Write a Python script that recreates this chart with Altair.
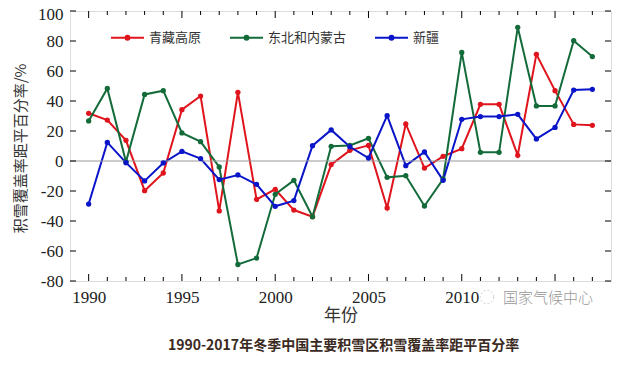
import altair as alt
import pandas as pd

years = list(range(1990, 2018))
series_names = ["青藏高原", "东北和内蒙古", "新疆"]
qzgy = [31.8, 27.3, 13.8, -19.8, -8.0, 34.2, 43.3, -33.3, 45.8, -25.6, -18.9, -32.7, -37.1, -2.4,
        7.1, 10.4, -31.3, 24.7, -4.7, 3.1, 8.2, 37.8, 37.8, 3.8, 71.1, 46.9, 24.4, 23.8]
dbnmg = [26.7, 48.4, -0.5, 44.4, 46.9, 18.7, 12.9, -4.0, -69.0, -64.7, -22.2, -12.9, -37.1, 9.8,
         10.4, 15.1, -10.9, -9.8, -30.0, -12.0, 72.4, 5.8, 5.8, 89.1, 36.7, 36.7, 80.2, 69.6]
xj = [-28.7, 12.4, -1.1, -13.3, -1.3, 6.4, 1.6, -12.4, -9.3, -15.6, -30.2, -26.4, 10.2, 20.7,
      9.5, 2.0, 30.2, -3.1, 6.0, -12.9, 27.8, 29.6, 29.6, 31.1, 14.7, 22.4, 47.3, 47.8]
colors = ["#e0141c", "#136b3a", "#0a14c8"]
x_labels = [1990, 1995, 2000, 2005, 2010]
y_ticks = [-80, -60, -40, -20, 0, 20, 40, 60, 80, 100]

rows = []
for name, vals in zip(series_names, [qzgy, dbnmg, xj]):
    for yr, v in zip(years, vals):
        rows.append({"年": yr, "值": v, "区域": name})
df = pd.DataFrame(rows)
ticks_df = pd.DataFrame({"年": years, "major": [y % 5 == 0 for y in years]})
yt_df = pd.DataFrame({"值": y_ticks})

W, H = 541, 270
SERIF = "Liberation Serif, Noto Sans CJK SC"
CJK = "Noto Sans CJK SC"

xscale = alt.Scale(domain=[1989, 2018], nice=False, zero=False)
yscale = alt.Scale(domain=[-80, 100], nice=False)

xaxis = alt.Axis(values=x_labels, format="d", tickSize=0, domain=False, grid=False,
                 labelFont=SERIF, labelFontSize=17, labelColor="#222", labelPadding=8,
                 title="年份", titleFont=CJK, titleFontSize=17, titleFontWeight="normal",
                 titleColor="#333", titlePadding=2)
yaxis = alt.Axis(values=y_ticks, tickSize=0, domain=False, grid=False,
                 labelExpr="'' + datum.value", labelOverlap=False, labelFlush=False,
                 labelOffset={"condition": {"test": "datum.value == 100", "value": 3}, "value": 0},
                 labelFont=SERIF, labelFontSize=17, labelColor="#222", labelPadding=7,
                 title="积雪覆盖率距平百分率/%", titleFont=CJK, titleFontSize=15,
                 titleFontWeight="normal", titleColor="#333",
                 titleX=-50, titleY=137, titleAngle=-90, titleAlign="center",
                 titleBaseline="middle")

X = alt.X("年:Q", scale=xscale, axis=xaxis, title="年份")
Y = alt.Y("值:Q", scale=yscale, axis=yaxis, title="积雪覆盖率距平百分率/%")

legend_path = ("M-1,0H1M-0.12,0a0.12,0.12 0 1,0 0.24,0a0.12,0.12 0 1,0 -0.24,0")

color = alt.Color("区域:N", scale=alt.Scale(domain=series_names, range=colors),
                  legend=alt.Legend(title=None, orient="none", legendX=40, legendY=9,
                                    direction="horizontal", symbolType=legend_path,
                                    symbolSize=1089, symbolStrokeWidth=2,
                                    labelFont=CJK, labelFontSize=13, labelColor="#333",
                                    labelOffset=4, columnPadding=24))

base = alt.Chart(df)
lines = base.mark_line(strokeWidth=2).encode(x=X, y=Y, color=color, detail="区域:N")
points = base.mark_point(filled=True, size=28, opacity=1).encode(x=X, y=Y, color=color)

zero = alt.Chart(pd.DataFrame({"值": [0]})).mark_rule(color="#999", strokeWidth=1).encode(y=Y)

tb = alt.Chart(ticks_df)
minor_bot = tb.transform_filter("!datum.major").mark_rule(color="#000").encode(
    x=X, y=alt.value(H), y2=alt.value(H - 4))
major_bot = tb.transform_filter("datum.major").mark_rule(color="#000").encode(
    x=X, y=alt.value(H), y2=alt.value(H - 7))
minor_top = tb.transform_filter("!datum.major").mark_rule(color="#000").encode(
    x=X, y=alt.value(0), y2=alt.value(4))
major_top = tb.transform_filter("datum.major").mark_rule(color="#000").encode(
    x=X, y=alt.value(0), y2=alt.value(7))
yl = alt.Chart(yt_df).mark_rule(color="#000").encode(y=Y, x=alt.value(0), x2=alt.value(6))
yr_ = alt.Chart(yt_df).mark_rule(color="#000").encode(y=Y, x=alt.value(W), x2=alt.value(W - 6))

wm_icon = alt.Chart(pd.DataFrame({"t": [""]})).mark_point(
    shape="circle", size=180, color="#bbb", strokeWidth=1, strokeDash=[2, 2], clip=False
).encode(x=alt.value(417), y=alt.value(286))
wm = alt.Chart(pd.DataFrame({"t": ["国家气候中心"]})).mark_text(
    font=CJK, fontSize=15, color="#999", align="left", baseline="middle", fontWeight=300,
    clip=False
).encode(x=alt.value(433), y=alt.value(287), text="t:N")

chart = alt.layer(lines, zero, points, minor_bot, major_bot, minor_top, major_top, yl, yr_,
                  wm_icon, wm).properties(
    width=W, height=H,
    title=alt.TitleParams("1990-2017年冬季中国主要积雪区积雪覆盖率距平百分率", orient="bottom",
                          font=CJK, fontSize=14, fontWeight="bold", color="#3b2a1e",
                          offset=16, dx=3),
    padding={"left": 62, "top": 3, "right": 2, "bottom": 77},
    autosize=alt.AutoSizeParams(type="none"),
).configure_view(stroke="#000", strokeWidth=1).configure(background="#ffffff")

chart.save("out.html", embed_options={"renderer": "svg", "actions": False})
